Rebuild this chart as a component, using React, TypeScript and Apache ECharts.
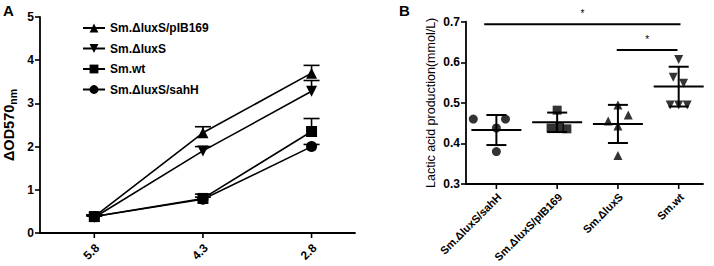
import React, { useEffect, useRef } from "react";
import * as echarts from "echarts";

// ---- Panel A data ----
const phLabelsA = ["5.8", "4.3", "2.8"];
const namesA = ["Sm.ΔluxS/pIB169", "Sm.ΔluxS", "Sm.wt", "Sm.ΔluxS/sahH"];
const pIB169A = [0.38, 2.32, 3.7];
const pIB169ErrA = [0.03, 0.14, 0.18];
const luxSA = [0.36, 1.9, 3.28];
const luxSErrA = [0.03, 0.1, 0.25];
const wtA = [0.38, 0.8, 2.35];
const wtErrA = [0.04, 0.1, 0.3];
const sahHA = [0.38, 0.78, 2.0];
const sahHErrA = [0.03, 0.05, 0.05];
const yTicksA = [0, 5, 1];

// ---- Panel B data ----
const groupsB = ["Sm.ΔluxS/sahH", "Sm.ΔluxS/pIB169", "Sm.ΔluxS", "Sm.wt"];
const sahHB = [0.46, 0.46, 0.438, 0.38];
const sahHJit = [-0.38, 0.15, 0, 0];
const pIB169B = [0.482, 0.438, 0.44, 0.436];
const pIB169Jit = [0, -0.1, 0.04, 0.16];
const luxSB = [0.495, 0.455, 0.47, 0.443, 0.37];
const luxSJit = [0, -0.16, 0.17, 0, 0];
const wtB = [0.607, 0.563, 0.548, 0.495, 0.495, 0.495];
const wtJit = [0, -0.09, 0.08, -0.14, 0, 0.14];
const meansB = [0.433, 0.452, 0.448, 0.54];
const sdB = [0.037, 0.024, 0.047, 0.049];
const yTicksB = [0.3, 0.7, 0.1];
const sigBars = [
  { from: -0.2, to: 3.03, y: 0.694, label: "*" },
  { from: 1.98, to: 2.98, y: 0.63, label: "*" },
];

const FONT = "Arial";
const triDown = "path://M0,0L2,0L1,1.8Z";

export default function App() {
  const ref = useRef<HTMLDivElement>(null);
  useEffect(() => {
    if (!ref.current) return;
    const chart = echarts.init(ref.current, null, { renderer: "svg" });

    const lineSeries = (name: string, vals: number[], symbol: string) => ({
      type: "line",
      name,
      xAxisIndex: 0,
      yAxisIndex: 0,
      data: vals.map((v, i) => [i, v]),
      symbol,
      symbolSize: 11,
      lineStyle: { color: "#000", width: 1.6 },
      itemStyle: { color: "#000" },
      z: 3,
    });

    const errSeries = (vals: number[], errs: number[]) => ({
      type: "custom",
      xAxisIndex: 0,
      yAxisIndex: 0,
      data: vals.map((v, i) => [i, v, errs[i]]),
      encode: { x: 0, y: 1 },
      z: 2,
      silent: true,
      renderItem: (_p: any, api: any) => {
        const x = api.value(0), y = api.value(1), e = api.value(2);
        const p = api.coord([x, y]);
        const t = api.coord([x, y + e]);
        return {
          type: "group",
          children: [
            { type: "line", shape: { x1: p[0], y1: p[1], x2: t[0], y2: t[1] }, style: { stroke: "#000", lineWidth: 1.6 } },
            { type: "line", shape: { x1: t[0] - 8, y1: t[1], x2: t[0] + 8, y2: t[1] }, style: { stroke: "#000", lineWidth: 1.6 } },
          ],
        };
      },
    });

    // category ticks + rotated labels placed through the axis scale
    const xLabelSeries = (axisIdx: number, labels: string[], yBase: number, fontSize: number, dy: number) => ({
      type: "custom",
      xAxisIndex: axisIdx,
      yAxisIndex: axisIdx,
      clip: false,
      silent: true,
      data: labels.map((_, i) => [i, yBase]),
      encode: { x: 0, y: 1 },
      renderItem: (p: any, api: any) => {
        const c = api.coord([api.value(0), api.value(1)]);
        return {
          type: "group",
          children: [
            { type: "line", shape: { x1: c[0], y1: c[1], x2: c[0], y2: c[1] + 5 }, style: { stroke: "#000", lineWidth: 1.6 } },
            {
              type: "group",
              x: c[0] + 3,
              y: c[1] + dy,
              rotation: Math.PI / 4,
              children: [
                {
                  type: "text",
                  style: {
                    text: labels[p.dataIndex],
                    font: `bold ${fontSize}px Arial`,
                    fill: "#000",
                    align: "right",
                    verticalAlign: "middle",
                  },
                },
              ],
            },
          ],
        };
      },
    });

    const scatterB = (vals: number[], jit: number[], idx: number, symbol: string, size: number) => ({
      type: "scatter",
      xAxisIndex: 1,
      yAxisIndex: 1,
      data: vals.map((v, i) => [idx + jit[i], v]),
      symbol,
      symbolSize: size,
      itemStyle: { color: "#000" },
      z: 3,
    });

    const axisLineStyle = { lineStyle: { color: "#000", width: 1.8 } };
    const tickLabel = { color: "#000", fontFamily: FONT, fontWeight: "bold", fontSize: 12 };

    chart.setOption({
      animation: false,
      textStyle: { fontFamily: FONT },
      grid: [
        { left: 40, right: 359, top: 17, bottom: 33 },
        { left: 466, right: 11, top: 21.7, bottom: 82 },
      ],
      xAxis: [
        {
          type: "value",
          gridIndex: 0,
          min: -0.5,
          max: 2.4,
          splitLine: { show: false },
          axisLine: { show: true, onZero: false, ...axisLineStyle },
          axisTick: { show: false },
          axisLabel: { show: false },
        },
        {
          type: "value",
          gridIndex: 1,
          min: -0.5,
          max: 3.4,
          splitLine: { show: false },
          axisLine: { show: true, onZero: false, ...axisLineStyle },
          axisTick: { show: false },
          axisLabel: { show: false },
        },
      ],
      yAxis: [
        {
          type: "value",
          gridIndex: 0,
          min: yTicksA[0],
          max: yTicksA[1],
          interval: yTicksA[2],
          splitLine: { show: false },
          axisLine: { show: true, onZero: false, ...axisLineStyle },
          axisTick: { show: true, length: 5, lineStyle: { color: "#000", width: 1.6 } },
          axisLabel: { ...tickLabel, margin: 6 },
          name: "{a|ΔOD570}{b|nm}",
          nameLocation: "middle",
          nameGap: 22,
          nameRotate: 90,
          nameTextStyle: {
            rich: {
              a: { fontFamily: FONT, fontSize: 14.5, fontWeight: "bold", color: "#000", lineHeight: 18 },
              b: { fontFamily: FONT, fontSize: 10.5, fontWeight: "bold", color: "#000", lineHeight: 18, verticalAlign: "bottom", padding: [6, 0, 0, 0] },
            },
          },
        },
        {
          type: "value",
          gridIndex: 1,
          min: yTicksB[0],
          max: yTicksB[1],
          interval: yTicksB[2],
          splitLine: { show: false },
          axisLine: { show: true, onZero: false, ...axisLineStyle },
          axisTick: { show: true, length: 5, lineStyle: { color: "#000", width: 1.6 } },
          axisLabel: { ...tickLabel, margin: 6, formatter: (v: number) => v.toFixed(1) },
          name: "Lactic acid production(mmol/L)",
          nameLocation: "middle",
          nameGap: 29,
          nameTextStyle: { fontFamily: FONT, fontSize: 12.5, color: "#000" },
        },
      ],
      legend: {
        left: 77,
        top: 17,
        orient: "vertical",
        itemWidth: 22,
        itemHeight: 11,
        itemGap: 8.5,
        data: namesA,
        textStyle: { fontFamily: FONT, fontWeight: "bold", fontSize: 12, color: "#000" },
      },
      graphic: [
        { type: "text", left: 3, top: 3, style: { text: "A", font: `bold 15px ${FONT}`, fill: "#000" } },
        { type: "text", left: 399, top: 3, style: { text: "B", font: `bold 15px ${FONT}`, fill: "#000" } },
      ],
      series: [
        errSeries(pIB169A, pIB169ErrA),
        errSeries(luxSA, luxSErrA),
        errSeries(wtA, wtErrA),
        errSeries(sahHA, sahHErrA),
        lineSeries(namesA[0], pIB169A, "triangle"),
        lineSeries(namesA[1], luxSA, triDown),
        lineSeries(namesA[2], wtA, "rect"),
        lineSeries(namesA[3], sahHA, "circle"),
        xLabelSeries(0, phLabelsA, yTicksA[0], 12, 13),
        scatterB(sahHB, sahHJit, 0, "circle", 9),
        scatterB(pIB169B, pIB169Jit, 1, "rect", 9),
        scatterB(luxSB, luxSJit, 2, "triangle", 9),
        scatterB(wtB, wtJit, 3, triDown, 9),
        xLabelSeries(1, groupsB, yTicksB[0], 11, 11),
        {
          type: "custom",
          xAxisIndex: 1,
          yAxisIndex: 1,
          data: meansB.map((m, i) => [i, m, sdB[i]]),
          encode: { x: 0, y: 1 },
          z: 2,
          silent: true,
          renderItem: (_p: any, api: any) => {
            const x = api.value(0), m = api.value(1), s = api.value(2);
            const c = api.coord([x, m]);
            const hi = api.coord([x, m + s]);
            const lo = api.coord([x, m - s]);
            const st = { stroke: "#000", lineWidth: 2 };
            return {
              type: "group",
              children: [
                { type: "line", shape: { x1: c[0] - 25, y1: c[1], x2: c[0] + 25, y2: c[1] }, style: st },
                { type: "line", shape: { x1: hi[0], y1: hi[1], x2: lo[0], y2: lo[1] }, style: st },
                { type: "line", shape: { x1: hi[0] - 10, y1: hi[1], x2: hi[0] + 10, y2: hi[1] }, style: st },
                { type: "line", shape: { x1: lo[0] - 10, y1: lo[1], x2: lo[0] + 10, y2: lo[1] }, style: st },
              ],
            };
          },
        },
        {
          type: "custom",
          xAxisIndex: 1,
          yAxisIndex: 1,
          clip: false,
          silent: true,
          data: sigBars.map((b) => [b.from, b.to, b.y]),
          encode: { x: [0, 1], y: 2 },
          renderItem: (p: any, api: any) => {
            const a = api.coord([api.value(0), api.value(2)]);
            const b = api.coord([api.value(1), api.value(2)]);
            return {
              type: "group",
              children: [
                { type: "line", shape: { x1: a[0], y1: a[1], x2: b[0], y2: b[1] }, style: { stroke: "#000", lineWidth: 2 } },
                {
                  type: "text",
                  x: (a[0] + b[0]) / 2,
                  y: a[1] - 6,
                  style: { text: sigBars[p.dataIndex].label, font: `10px ${FONT}`, fill: "#000", align: "center", verticalAlign: "bottom" },
                },
              ],
            };
          },
        },
      ],
    });
    return () => chart.dispose();
  }, []);
  return <div ref={ref} style={{ width: 714, height: 266, position: "absolute", left: 0, top: 0 }} />;
}
